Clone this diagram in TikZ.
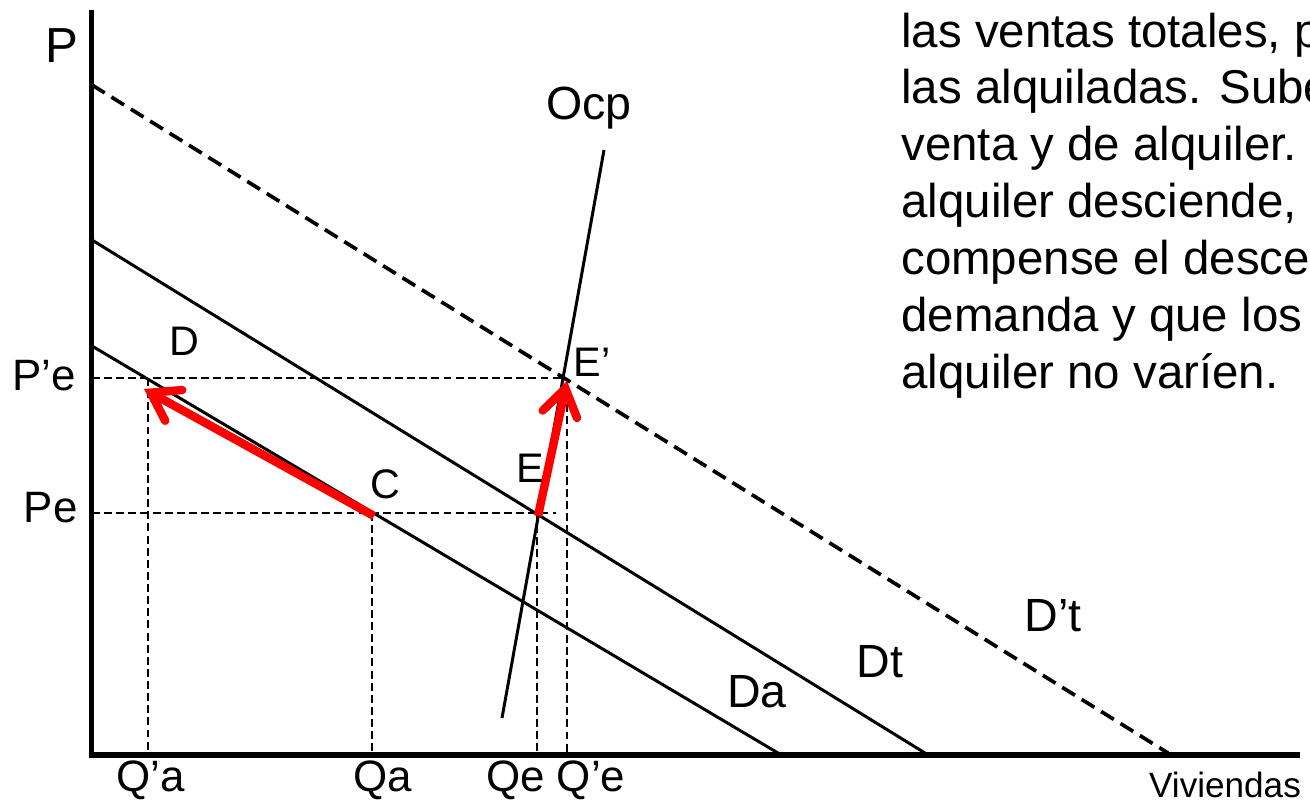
\documentclass[tikz,border=0pt]{standalone}
\usepackage{fontspec}
\setmainfont{Liberation Sans}
\usetikzlibrary{arrows.meta}
\begin{document}
\begin{tikzpicture}[x=0.02cm,y=-0.02cm,
  axis/.style={line width=3.4pt,line join=miter},
  curve/.style={line width=1.7pt},
  newcurve/.style={line width=2.1pt,dash pattern=on 8.5pt off 4.5pt},
  guide/.style={line width=1.1pt,dash pattern=on 4.5pt off 2.4pt},
  move/.style={red,line width=4.8pt,line cap=butt,
    -{Straight Barb[length=15pt,width=20pt,line width=4.8pt,line cap=round]}},
  lbl/.style={inner sep=0pt,font=\fontsize{25}{30}\selectfont},
  clbl/.style={inner sep=0pt,font=\fontsize{26.5}{31}\selectfont},
  pt/.style={inner sep=0pt,font=\fontsize{23.5}{28}\selectfont},
  body/.style={inner sep=0pt,anchor=base west,font=\fontsize{27}{32}\selectfont}]
\useasboundingbox (0,0) rectangle (1310,802);
\clip (0,0) rectangle (1310,802);
% axes
\coordinate (Ytop) at (91.5,10);
\coordinate (O) at (91.5,755);
\coordinate (Xend) at (1300,755);
\draw[axis] (Ytop) -- (O) -- (Xend);
% curves
\coordinate (DaA) at (92,346);  \coordinate (DaB) at (778,753);
\coordinate (DtA) at (92,240);  \coordinate (DtB) at (925,753);
\coordinate (DpA) at (92,85);   \coordinate (DpB) at (1168,753);
\coordinate (OcA) at (502,718); \coordinate (OcB) at (604,150);
\draw[curve] (DaA) -- (DaB);
\draw[curve] (DtA) -- (DtB);
\draw[newcurve] (DpA) -- (DpB);
\draw[curve] (OcA) -- (OcB);
% guide lines
\coordinate (yPp) at (92,378);  \coordinate (Ep) at (563,378);
\coordinate (yP) at (92,513);   \coordinate (Pend) at (556,513);
\coordinate (Dpt) at (148,378); \coordinate (Qpa) at (148,753);
\coordinate (Cpt) at (372,513); \coordinate (Qa) at (372,753);
\coordinate (Ept) at (537,513); \coordinate (Qe) at (537,753);
\coordinate (Eptop) at (567,380); \coordinate (Qpe) at (567,753);
\draw[guide] (yPp) -- (Ep);
\draw[guide] (yP) -- (Pend);
\draw[guide] (Dpt) -- (Qpa);
\draw[guide] (Cpt) -- (Qa);
\draw[guide] (Ept) -- (Qe);
\draw[guide] (Eptop) -- (Qpe);
% red moves
\coordinate (R1s) at (374,516); \coordinate (R1e) at (144,389);
\coordinate (R2s) at (538,516); \coordinate (R2e) at (567,381);
\draw[move] (R1s) -- (R1e);
\draw[move] (R2s) -- (R2e);
% labels
\node[inner sep=0pt,font=\fontsize{28}{33}\selectfont] (lP) at (62,46) {P};
\node[clbl] (lOcp) at (589,108) {Ocp};
\node[pt] (lD) at (184,341) {D};
\node[lbl,anchor=east] (lPpe) at (76,376) {P’e};
\node[lbl,anchor=east] (lPe) at (78,508) {Pe};
\node[pt] (lC) at (385,484) {C};
\node[pt] (lE) at (530,468) {E};
\node[pt] (lEp) at (592,362) {E’};
\node[clbl] (lDpt) at (1053,616) {D’t};
\node[clbl] (lDt) at (880,662) {Dt};
\node[clbl] (lDa) at (757,692) {Da};
\node[lbl] (lQpa) at (151,780) {Q’a};
\node[lbl] (lQa) at (383,780) {Qa};
\node[lbl] (lQe) at (516,780) {Qe};
\node[lbl] (lQpe) at (591,780) {Q’e};
\node[inner sep=0pt,anchor=base,font=\fontsize{20}{24}\selectfont] (lViv) at (1225,797) {Viviendas};
% text
\node[body] (t1) at (901,47) {las ventas totales, p};
\node[body] (t2) at (901,103.8) {las alquiladas. Sube};
\node[body] (t3) at (901,160.7) {venta y de alquiler.};
\node[body] (t4) at (901,217.5) {alquiler desciende,};
\node[body] (t5) at (901,274.3) {compense el desce};
\node[body] (t6) at (901,331.2) {demanda y que los};
\node[body] (t7) at (901,388) {alquiler no varíen.};
\end{tikzpicture}
\end{document}
